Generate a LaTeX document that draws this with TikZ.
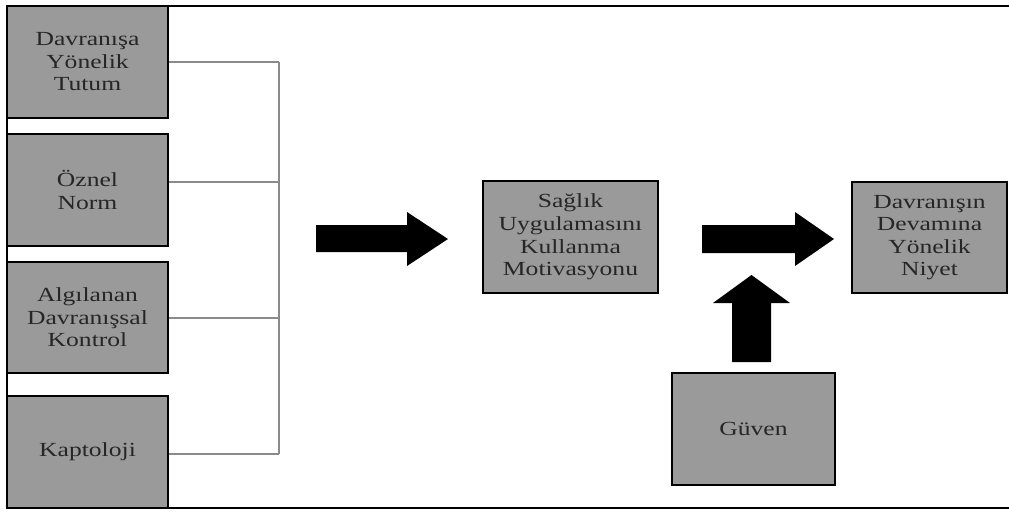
\documentclass[tikz,border=0pt]{standalone}
\usepackage{fontspec}
\setmainfont{Liberation Serif}[FakeStretch=1.28]
\begin{document}
\begin{tikzpicture}[x=0.75pt,y=-0.75pt,
  box/.style={draw=black,line width=1.4pt,fill=boxgray,text=txtgray,inner sep=0pt,
    align=center,font=\fontsize{15}{16.9}\selectfont},
  link/.style={draw=linegray,line width=1.3pt},
  fatarrow/.style={fill=black,draw=none}]
\definecolor{boxgray}{HTML}{9A9A9A}
\definecolor{txtgray}{HTML}{262626}
\definecolor{linegray}{HTML}{8A8A8A}
\useasboundingbox (0,0) rectangle (1009,511);
% left boxes
\node[box,minimum width=120.75pt,minimum height=84pt] (b1) at (87.5,62) {Davranışa\\Yönelik\\Tutum};
\node[box,minimum width=120.75pt,minimum height=84pt] (b2) at (87.5,190) {Öznel\\Norm};
\node[box,minimum width=120.75pt,minimum height=83.25pt] (b3) at (87.5,317.5) {Algılanan\\Davranışsal\\Kontrol};
\node[box,minimum width=120.75pt,minimum height=84pt] (b4) at (87.5,452) {Kaptoloji};
% frame
\draw[line width=1.8pt] (1009,6) -- (7,6) -- (7,508) -- (1009,508);
% middle, right, guven
\node[box,line width=1.1pt,minimum width=131.25pt,minimum height=84pt] (m) at (570.5,237) {Sağlık\\Uygulamasını\\Kullanma\\Motivasyonu};
\node[box,line width=1.1pt,minimum width=116.25pt,minimum height=83.25pt] (r) at (929.5,237.5) {Davranışın\\Devamına\\Yönelik\\Niyet};
\node[box,line width=1.1pt,minimum width=122.25pt,minimum height=84pt] (g) at (753.5,429) {Güven};
% bus
\coordinate (bus1) at (279,62);
\coordinate (bus2) at (279,182);
\coordinate (bus3) at (279,318);
\coordinate (bus4) at (279,454);
\draw[link] (b1.east |- bus1) -- (bus1);
\draw[link] (b2.east |- bus2) -- (bus2);
\draw[link] (b3.east |- bus3) -- (bus3);
\draw[link] (b4.east |- bus4) -- (bus4);
\draw[link] (bus1) -- (bus4);
% block arrows
\fill[fatarrow] (316,225) -- (407,225) -- (407,212) -- (448,239) -- (407,266) -- (407,252) -- (316,252) -- cycle;
\fill[fatarrow] (702,225) -- (795,225) -- (795,212) -- (834,239) -- (795,266) -- (795,253) -- (702,253) -- cycle;
\fill[fatarrow] (732,362) -- (732,303) -- (713,303) -- (751.5,275) -- (790,303) -- (771,303) -- (771,362) -- cycle;
\end{tikzpicture}
\end{document}
